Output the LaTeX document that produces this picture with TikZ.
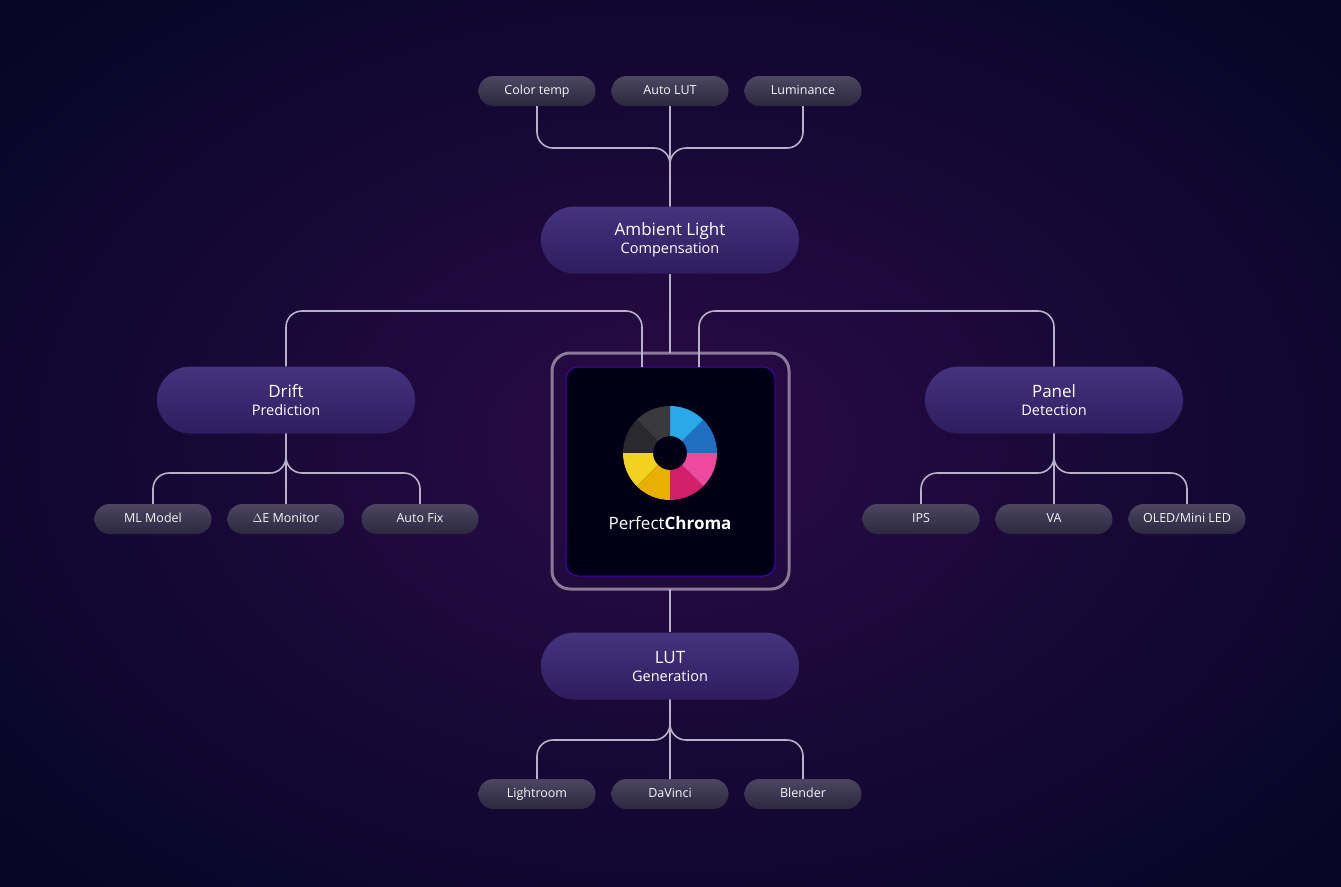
\documentclass[tikz,border=0pt]{standalone}
\usepackage{fontspec}
\setmainfont{Open Sans}
\usetikzlibrary{calc,positioning,shapes}
\definecolor{bgedge}{HTML}{070628}
\definecolor{bgmid}{HTML}{2A0B46}
\definecolor{pilltop}{HTML}{4C4660}
\definecolor{pillbot}{HTML}{2C2840}
\definecolor{bigtop}{HTML}{45337E}
\definecolor{bigbot}{HTML}{2E1D5E}
\definecolor{wire}{HTML}{B8B0C8}
\begin{document}
\begin{tikzpicture}[x=1pt,y=-1pt,
  leaf/.style={rounded rectangle,minimum width=117pt,minimum height=30pt,top color=pilltop,bottom color=pillbot,text=white!92!gray,font=\fontsize{12.5}{12.5}\selectfont,text height=9pt,text depth=2.5pt,inner sep=0pt},
  hub/.style={rounded rectangle,minimum width=258pt,minimum height=67pt,top color=bigtop,bottom color=bigbot,text=white,align=center,font=\fontsize{14.5}{18}\selectfont,inner sep=0pt},
  wire/.style={draw=wire,line width=1.6pt,rounded corners=16pt}]
  \useasboundingbox (0,0) rectangle (1341,886);
  \shade[inner color=bgmid,outer color=bgedge] (-200,-150) rectangle (1541,1036);

  % hubs
  \node[hub] (al) at (670,240) {{\fontsize{17}{18}\selectfont Ambient Light}\\Compensation};
  \node[hub] (dp) at (286,400) {{\fontsize{17}{18}\selectfont Drift}\\Prediction};
  \node[hub] (pd) at (1054,400) {{\fontsize{17}{18}\selectfont Panel}\\Detection};
  \node[hub] (lg) at (670,666) {{\fontsize{17}{18}\selectfont LUT}\\Generation};

  % leaves
  \node[leaf] (ct) at (537,91) {Color temp};
  \node[leaf] (alut) at (670,91) {Auto LUT};
  \node[leaf] (lum) at (803,91) {Luminance};
  \node[leaf] (ml) at (153,519) {ML Model};
  \node[leaf] (de) at (286,519) {$\Delta$E Monitor};
  \node[leaf] (af) at (420,519) {Auto Fix};
  \node[leaf] (ips) at (921,519) {IPS};
  \node[leaf] (va) at (1054,519) {VA};
  \node[leaf] (oled) at (1187,519) {OLED/Mini LED};
  \node[leaf] (lr) at (537,794) {Lightroom};
  \node[leaf] (dv) at (670,794) {DaVinci};
  \node[leaf] (bl) at (803,794) {Blender};

  % center box
  \draw[line width=3pt,draw=white!45!bgmid,rounded corners=18pt] (552,353) rectangle (789,589);
  \node[draw=blue!45!violet,line width=1pt,fill=black!92!blue,rounded corners=12pt,minimum width=209pt,minimum height=209pt] (pc) at (670.5,471.5) {};
  \coordinate (pcl) at (642,367);
  \coordinate (pcr) at (699,367);
  \coordinate (pct) at (670,353);
  \coordinate (pcb) at (670,589);

  % top branch
  \coordinate (tj) at (670,148);
  \draw[wire] (ct.south) |- (tj) -- (al.north);
  \draw[wire] (lum.south) |- (tj) -- (al.north);
  \draw[wire,rounded corners=0pt] (alut.south) -- (al.north);
  \draw[wire,rounded corners=0pt] (al.south) -- (pct);
  % side branches
  \draw[wire] (dp.north) |- (642,311) -- (pcl);
  \draw[wire] (pd.north) |- (699,311) -- (pcr);
  \coordinate (dj) at (286,473);
  \draw[wire] (dp.south) -- (dj) -| (ml.north);
  \draw[wire] (dp.south) -- (dj) -| (af.north);
  \draw[wire,rounded corners=0pt] (dp.south) -- (de.north);
  \coordinate (pj) at (1054,473);
  \draw[wire] (pd.south) -- (pj) -| (ips.north);
  \draw[wire] (pd.south) -- (pj) -| (oled.north);
  \draw[wire,rounded corners=0pt] (pd.south) -- (va.north);
  % bottom branch
  \draw[wire,rounded corners=0pt] (pcb) -- (lg.north);
  \coordinate (bj) at (670,740);
  \draw[wire] (lg.south) -- (bj) -| (lr.north);
  \draw[wire] (lg.south) -- (bj) -| (bl.north);
  \draw[wire,rounded corners=0pt] (lg.south) -- (dv.north);

  % logo ring
  \foreach \a/\b/\c in {0/45/1F6FC0,45/90/2AA8E8,90/135/3A3A3E,135/180/2A2A2E,180/225/F2D21E,225/270/E8B000,270/315/D21F6A,315/360/EC4A9E}{
    \definecolor{seg}{HTML}{\c}
    \fill[seg] ($(670,453)+(\a:47 and -47)$) arc[start angle=\a,end angle=\b,x radius=47,y radius=-47]
      -- ($(670,453)+(\b:17 and -17)$) arc[start angle=\b,end angle=\a,x radius=17,y radius=-17] -- cycle;
  }
  \node[text=white,font=\fontsize{17}{17}\selectfont] (brand) at (670,523) {Perfect\textbf{Chroma}};
\end{tikzpicture}
\end{document}
